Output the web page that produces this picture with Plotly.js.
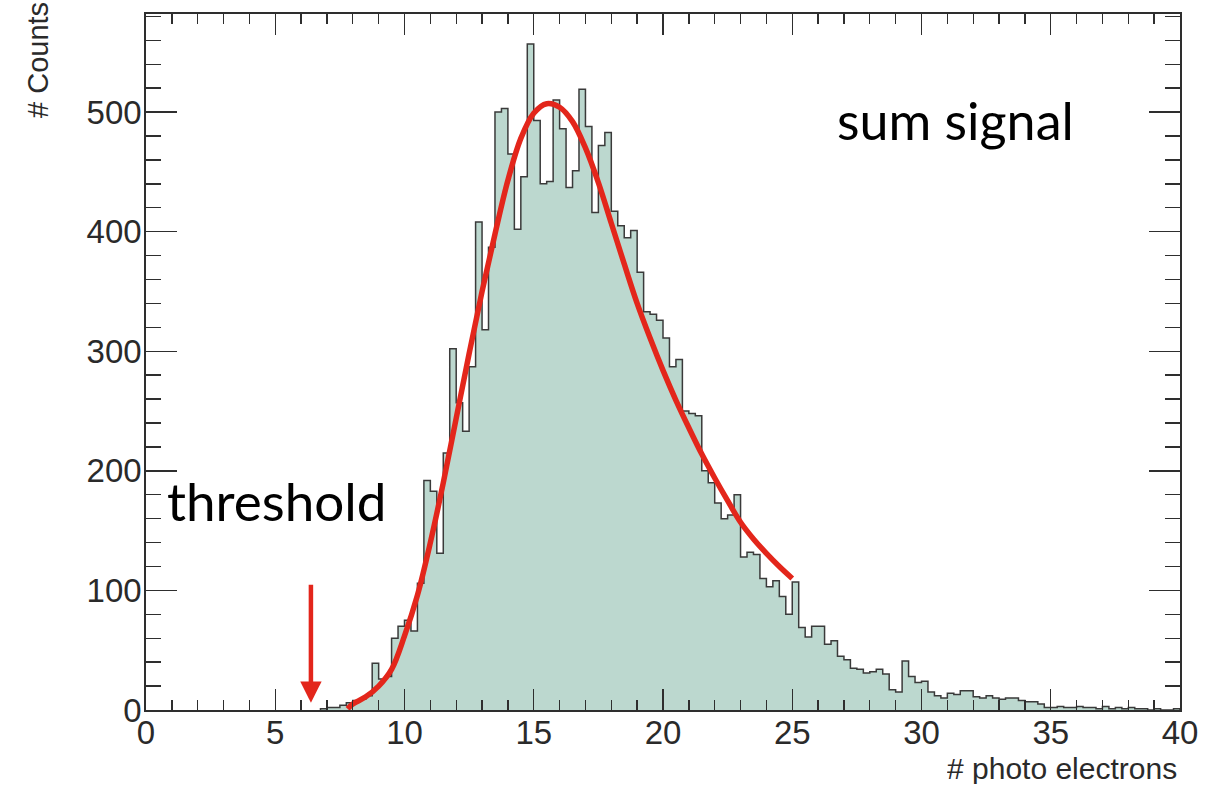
<!DOCTYPE html>
<html>
<head>
<meta charset="utf-8">
<script src="https://cdn.plot.ly/plotly-3.0.1.min.js"></script>
<style>html,body{margin:0;padding:0;background:#fff;}#chart{width:1223px;height:786px;}</style>
</head>
<body>
<div id="chart"></div>
<script>
// Histogram: lower edge of the first bin, bin width and counts per bin
const firstBinLow = 6.75;
const binWidth = 0.25;
const counts = [
  1, 2, 2, 4, 6, 8, 9, 12, 39, 26, 28, 60, 70, 75, 66, 106,
  192, 183, 131, 215, 302, 257, 233, 287, 408, 318, 387, 500, 503, 465, 402, 446,
  557, 493, 440, 442, 510, 486, 437, 451, 519, 488, 416, 472, 483, 417, 405, 395,
  401, 366, 333, 331, 326, 311, 287, 293, 250, 248, 246, 200, 190, 173, 160, 163,
  180, 128, 132, 130, 110, 103, 108, 95, 80, 107, 69, 61, 70, 70, 55, 58,
  45, 42, 35, 34, 31, 32, 34, 30, 17, 15, 41, 28, 23, 24, 15, 12,
  10, 14, 13, 16, 16, 11, 10, 12, 10, 9, 10, 10, 8, 7, 7, 5,
  2, 2, 3, 2, 2, 3, 2, 2, 1, 3, 1, 2, 1, 2, 1, 1,
  0, 1, 0, 0, 1
];

// Fit curve
const fitX = [7.8, 8.0, 8.5, 9.0, 9.5, 10.0, 10.5, 11.0, 11.5, 12.0, 12.5, 13.0, 13.5, 14.0, 14.5, 15.0, 15.5, 16.0,
              16.5, 17.0, 17.5, 18.0, 18.5, 19.0, 19.5, 20.0, 20.5, 21.0, 21.5, 22.0, 22.5, 23.0, 23.5, 24.0, 24.5, 25.0];
const fitY = [1, 5, 11, 20, 34, 62, 96, 140, 190, 244, 298, 350, 398, 443, 478, 499, 507, 504,
              492, 470, 441, 407, 373, 340, 311, 284, 259, 236, 214, 194, 175, 157, 143, 131, 120, 110];

// Threshold arrow
const thresholdX = 6.38;
const arrowTip = 6;
const arrowTail = 106;

// Step outline built from the bins
const stepX = [firstBinLow];
const stepY = [0];
counts.forEach((c, i) => { stepX.push(firstBinLow + i * binWidth); stepY.push(c); });
const lastEdge = firstBinLow + counts.length * binWidth;
stepX.push(lastEdge); stepY.push(counts[counts.length - 1]);
stepX.push(lastEdge); stepY.push(0);

const axisColor = '#2e2e2e';
const tickFont = {family: 'Liberation Sans, Arial, sans-serif', size: 33, color: '#2a2a2a'};

const traces = [
  {
    type: 'scatter', mode: 'lines', x: stepX, y: stepY,
    line: {shape: 'hv', color: '#3a3a3a', width: 1.5},
    fill: 'tozeroy', fillcolor: '#bcd8cf', hoverinfo: 'skip', showlegend: false
  },
  {
    type: 'scatter', mode: 'lines', x: fitX, y: fitY,
    line: {shape: 'spline', color: '#e3261b', width: 5.5},
    hoverinfo: 'skip', showlegend: false
  }
];

const layout = {
  width: 1223, height: 786,
  margin: {l: 146, r: 43, t: 14, b: 76, pad: 0},
  paper_bgcolor: '#ffffff', plot_bgcolor: '#ffffff',
  showlegend: false,
  xaxis: {
    range: [0, 40], tick0: 0, dtick: 5, ticks: 'inside', ticklen: 21, tickwidth: 1.4, tickcolor: axisColor,
    showline: true, linecolor: axisColor, linewidth: 1.8, mirror: 'allticks',
    showgrid: false, zeroline: false, tickfont: tickFont, ticklabelstandoff: -7,
    minor: {dtick: 1, ticks: 'inside', ticklen: 10, tickwidth: 1.4, tickcolor: axisColor, showgrid: false}
  },
  yaxis: {
    range: [0, 582], tick0: 0, dtick: 100, ticks: 'inside', ticklen: 31, tickwidth: 1.4, tickcolor: axisColor,
    showline: true, linecolor: axisColor, linewidth: 1.8, mirror: 'allticks',
    showgrid: false, zeroline: false, tickfont: tickFont, ticklabelstandoff: -4,
    minor: {dtick: 20, ticks: 'inside', ticklen: 15, tickwidth: 1.4, tickcolor: axisColor, showgrid: false}
  },
  annotations: [
    {text: '# Counts', xref: 'paper', yref: 'paper', x: -0.1044, y: 0.934, textangle: -90,
     xanchor: 'center', yanchor: 'middle', showarrow: false,
     font: {family: 'Liberation Sans, Arial, sans-serif', size: 29, color: '#2a2a2a'}},
    {text: '# photo electrons', xref: 'paper', yref: 'paper', x: 0.998, y: -0.0833,
     xanchor: 'right', yanchor: 'middle', height: 32, borderpad: 0, showarrow: false,
     font: {family: 'Liberation Sans, Arial, sans-serif', size: 30, color: '#2a2a2a'}},
    {text: 'sum signal', xref: 'x', yref: 'y', x: 26.65, y: 493, xanchor: 'left', yanchor: 'middle',
     showarrow: false, font: {family: 'Lato, sans-serif', size: 52, color: '#000000'}},
    {text: 'threshold', xref: 'x', yref: 'y', x: 0.72, y: 175, xanchor: 'left', yanchor: 'middle',
     showarrow: false, font: {family: 'Lato, sans-serif', size: 53, color: '#000000'}},
    {text: '', xref: 'x', yref: 'y', x: thresholdX, y: arrowTip, axref: 'x', ayref: 'y',
     ax: thresholdX, ay: arrowTail, showarrow: true, arrowhead: 2, arrowsize: 0.95,
     arrowwidth: 4.5, arrowcolor: '#e3261b', standoff: 0}
  ]
};

Plotly.newPlot('chart', traces, layout, {staticPlot: true, displayModeBar: false});
</script>
</body>
</html>
